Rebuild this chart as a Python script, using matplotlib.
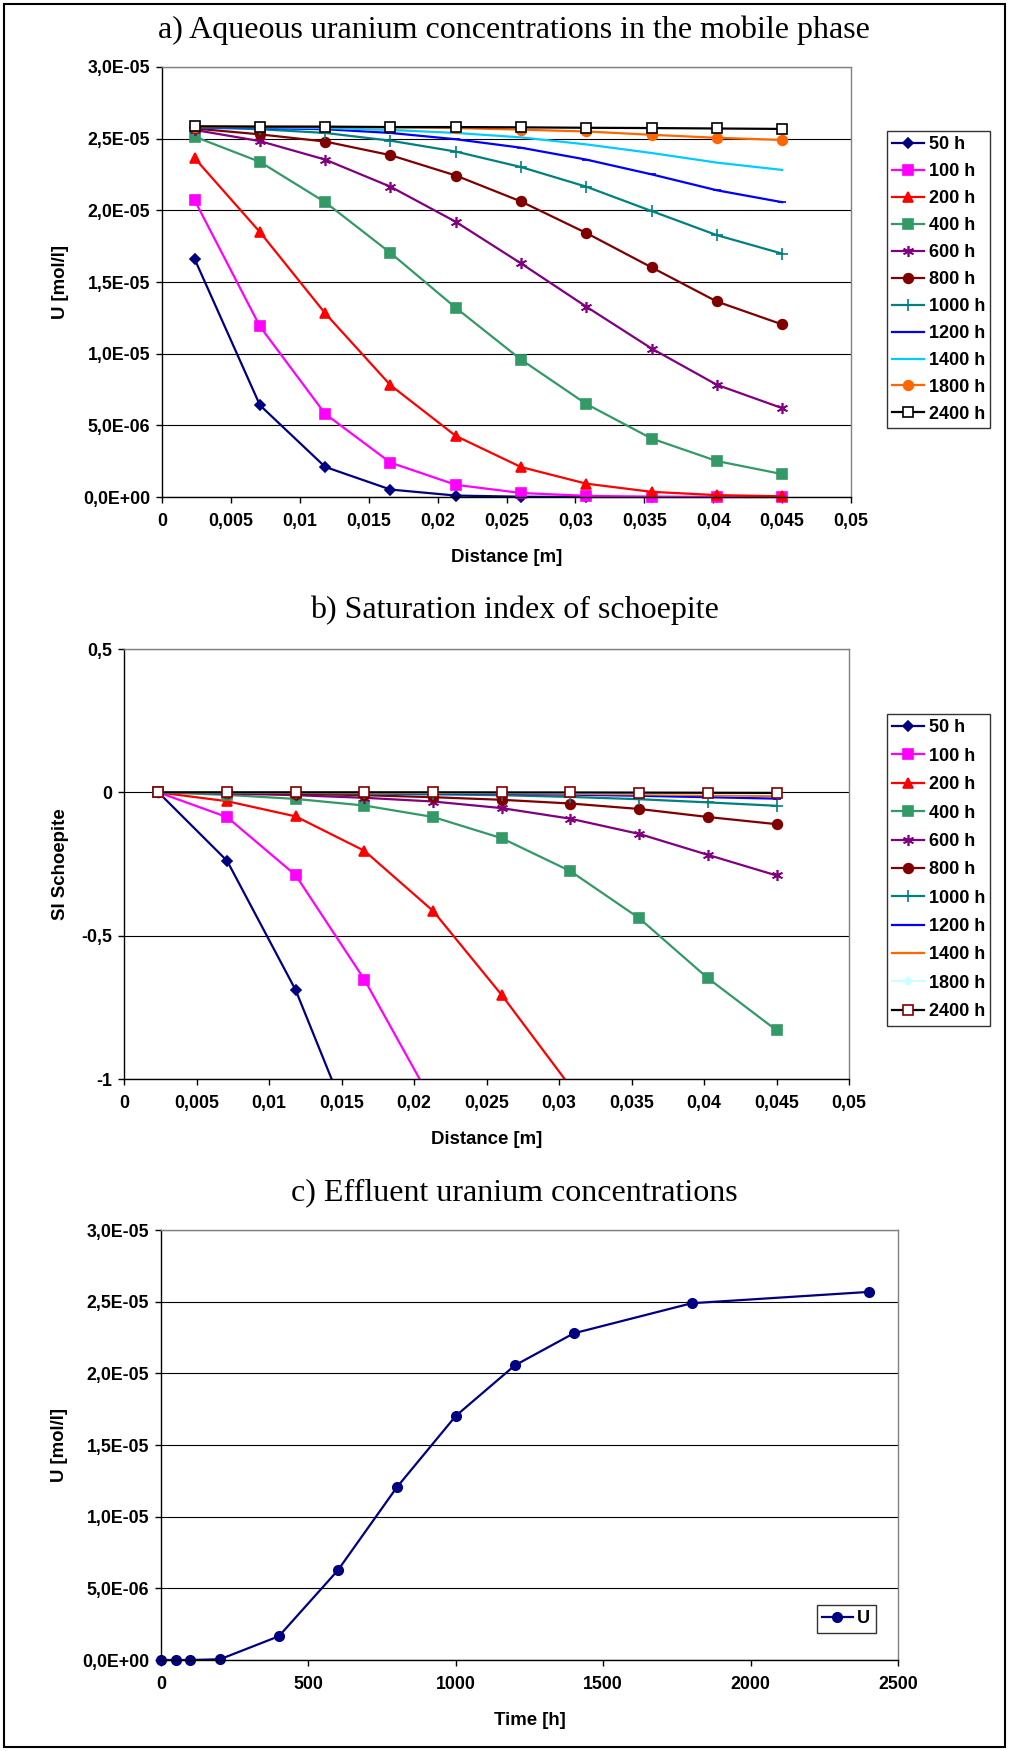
import matplotlib
matplotlib.use("Agg")
import matplotlib.pyplot as plt
import numpy as np
from matplotlib.patches import Rectangle

# distance of the cell centres [m]
distance = [0.00237, 0.00711, 0.01184, 0.01658, 0.02132, 0.02605, 0.03079, 0.03553, 0.04026, 0.045]
hours = ["50 h", "100 h", "200 h", "400 h", "600 h", "800 h", "1000 h", "1200 h", "1400 h", "1800 h", "2400 h"]

# a) aqueous U in mobile phase [mol/l]
u_50 = [1.66e-5, 6.4e-6, 2.1e-6, 5.2e-7, 1.0e-7, 2e-8, 0, 0, 0, 0]
u_100 = [2.07e-5, 1.19e-5, 5.8e-6, 2.4e-6, 8.5e-7, 2.8e-7, 8e-8, 2e-8, 0, 0]
u_200 = [2.364e-5, 1.848e-5, 1.282e-5, 7.8e-6, 4.26e-6, 2.09e-6, 9.3e-7, 3.6e-7, 1.3e-7, 5e-8]
u_400 = [2.514e-5, 2.338e-5, 2.057e-5, 1.703e-5, 1.32e-5, 9.59e-6, 6.49e-6, 4.08e-6, 2.51e-6, 1.6e-6]
u_600 = [2.561e-5, 2.483e-5, 2.354e-5, 2.165e-5, 1.92e-5, 1.63e-5, 1.328e-5, 1.036e-5, 7.83e-6, 6.2e-6]
u_800 = [2.571e-5, 2.53e-5, 2.48e-5, 2.385e-5, 2.243e-5, 2.062e-5, 1.842e-5, 1.602e-5, 1.364e-5, 1.204e-5]
u_1000 = [2.579e-5, 2.566e-5, 2.54e-5, 2.486e-5, 2.41e-5, 2.302e-5, 2.165e-5, 1.995e-5, 1.827e-5, 1.698e-5]
u_1200 = [2.579e-5, 2.574e-5, 2.566e-5, 2.54e-5, 2.496e-5, 2.437e-5, 2.354e-5, 2.251e-5, 2.14e-5, 2.057e-5]
u_1400 = [2.581e-5, 2.579e-5, 2.574e-5, 2.561e-5, 2.54e-5, 2.509e-5, 2.46e-5, 2.4e-5, 2.333e-5, 2.282e-5]
u_1800 = [2.584e-5, 2.584e-5, 2.581e-5, 2.579e-5, 2.574e-5, 2.563e-5, 2.55e-5, 2.527e-5, 2.506e-5, 2.491e-5]
u_2400 = [2.586e-5, 2.584e-5, 2.584e-5, 2.581e-5, 2.581e-5, 2.579e-5, 2.576e-5, 2.574e-5, 2.571e-5, 2.568e-5]

# b) saturation index of schoepite (points below -1 leave the frame)
si_50 = [0, -0.239, -0.690, -1.283, np.nan, np.nan, np.nan, np.nan, np.nan, np.nan]
si_100 = [0, -0.0865, -0.289, -0.653, -1.085, np.nan, np.nan, np.nan, np.nan, np.nan]
si_200 = [0, -0.031, -0.084, -0.204, -0.414, -0.707, -1.027, np.nan, np.nan, np.nan]
si_400 = [0, -0.009, -0.023, -0.046, -0.086, -0.160, -0.275, -0.439, -0.648, -0.830]
si_600 = [0, -0.004, -0.010, -0.019, -0.032, -0.055, -0.092, -0.145, -0.218, -0.290]
si_800 = [0, -0.002, -0.005, -0.010, -0.017, -0.026, -0.039, -0.058, -0.086, -0.111]
si_1000 = [0, -0.001, -0.002, -0.004, -0.007, -0.010, -0.016, -0.024, -0.035, -0.047]
si_1200 = [0, -0.0005, -0.001, -0.002, -0.003, -0.005, -0.008, -0.012, -0.017, -0.022]
si_1400 = [0, -0.0003, -0.0006, -0.001, -0.002, -0.003, -0.005, -0.007, -0.010, -0.013]
si_1800 = [0, 0, -0.0002, -0.0005, -0.001, -0.0015, -0.002, -0.003, -0.0045, -0.006]
si_2400 = [0, 0, 0, 0, 0, -0.0003, -0.0005, -0.001, -0.0015, -0.002]

# c) effluent
time_h = [0, 50, 100, 200, 400, 600, 800, 1000, 1200, 1400, 1800, 2400]
u_eff = [0, 0, 0, 5e-8, 1.66e-6, 6.26e-6, 1.205e-5, 1.703e-5, 2.055e-5, 2.279e-5, 2.489e-5, 2.568e-5]

u_series = [u_50, u_100, u_200, u_400, u_600, u_800, u_1000, u_1200, u_1400, u_1800, u_2400]
si_series = [si_50, si_100, si_200, si_400, si_600, si_800, si_1000, si_1200, si_1400, si_1800, si_2400]

star = (6, 2, 0)
# (color, marker, markersize, facecolor, edgecolor)
style_a = [
    ("#000080", "D", 5, None, None),
    ("#FF00FF", "s", 7, None, None),
    ("#FF0000", "^", 7, None, None),
    ("#339966", "s", 7, None, None),
    ("#800080", star, 8, None, None),
    ("#800000", "o", 7, None, None),
    ("#008080", "+", 8, None, None),
    ("#0000FF", "_", 6, None, None),
    ("#00CCFF", "None", 0, None, None),
    ("#FF6600", "o", 7, None, None),
    ("#000000", "s", 7, "white", "black"),
]
style_b = list(style_a)
style_b[8] = ("#FF6600", "None", 0, None, None)
style_b[9] = ("#CCFFFF", "D", 4, None, None)
style_b[10] = ("#000000", "s", 7, "white", "#800000")

SANS = "Liberation Sans"
SERIF = "Liberation Serif"
TICK_FS = 12.8
LAB_FS = 13.4

W, H = 1009, 1751
fig = plt.figure(figsize=(W / 100, H / 100), dpi=100)


def fax(l, t, r, b):
    # axes from pixel box
    return fig.add_axes([l / W, 1 - b / H, (r - l) / W, (b - t) / H])


def style_axes(ax):
    for s in ["top", "right"]:
        ax.spines[s].set_color("#808080")
    for s in ["left", "bottom"]:
        ax.spines[s].set_color("black")
    for s in ax.spines.values():
        s.set_linewidth(1.0)
    ax.tick_params(direction="out", length=4.5, width=1, color="black", labelsize=TICK_FS)
    ax.tick_params(axis="x", pad=7)
    ax.tick_params(axis="y", pad=4)
    for lab in ax.get_xticklabels() + ax.get_yticklabels():
        lab.set_fontfamily(SANS)
        lab.set_fontweight("bold")
    ax.yaxis.grid(True, color="black", lw=0.8)
    ax.set_axisbelow(True)


def comma(v):
    s = "%g" % v
    return s.replace(".", ",")


def sci(v):
    return ("%.1E" % v).replace(".", ",")


def legend(ax, handles, labels, l, t, spacing, hl=1.75):
    lg = ax.legend(handles, labels, loc="upper left", bbox_to_anchor=(l / W, 1 - t / H),
                   bbox_transform=fig.transFigure, borderaxespad=0, frameon=True, fancybox=False,
                   edgecolor="black", handlelength=hl, handletextpad=0.25, labelspacing=spacing,
                   borderpad=0.3, prop={"family": SANS, "weight": "bold", "size": 13})
    lg.get_frame().set_linewidth(1.0)
    return lg


def title(text, y):
    fig.text(514 / W, 1 - y / H, text, ha="center", va="baseline", family=SERIF, fontsize=23)


dist_ticks = [0, 0.005, 0.01, 0.015, 0.02, 0.025, 0.03, 0.035, 0.04, 0.045, 0.05]
u_ticks = [0, 5e-6, 1e-5, 1.5e-5, 2e-5, 2.5e-5, 3e-5]

# ---- a)
ax = fax(162, 67, 851, 497)
hs = []
for ys, (c, m, ms, fc, ec) in zip(u_series, style_a):
    h, = ax.plot(distance, ys, color=c, lw=1.6, marker=m, ms=ms,
                 mfc=fc if fc else c, mec=ec if ec else c, mew=1.2, clip_on=False)
    hs.append(h)
ax.set_xlim(0, 0.05)
ax.set_ylim(0, 3e-5)
ax.set_xticks(dist_ticks)
ax.set_xticklabels([comma(v) for v in dist_ticks])
ax.set_yticks(u_ticks)
ax.set_yticklabels([sci(v) for v in u_ticks])
style_axes(ax)
ax.set_xlabel("Distance [m]", family=SANS, weight="bold", fontsize=LAB_FS, labelpad=14)
ax.set_ylabel("U [mol/l]", family=SANS, weight="bold", fontsize=LAB_FS, labelpad=10)
legend(ax, hs, hours, 887, 131, 0.55)
title("a) Aqueous uranium concentrations in the mobile phase", 38)

# ---- b)
ax = fax(124, 649, 849, 1079)
hs = []
for ys, (c, m, ms, fc, ec) in zip(si_series, style_b):
    h, = ax.plot(distance, ys, color=c, lw=1.6, marker=m, ms=ms,
                 mfc=fc if fc else c, mec=ec if ec else c, mew=1.2)
    hs.append(h)
ax.set_xlim(0, 0.05)
ax.set_ylim(-1, 0.5)
ax.set_xticks(dist_ticks)
ax.set_xticklabels([comma(v) for v in dist_ticks])
si_ticks = [-1, -0.5, 0, 0.5]
ax.set_yticks(si_ticks)
ax.set_yticklabels([comma(v) for v in si_ticks])
style_axes(ax)
ax.set_xlabel("Distance [m]", family=SANS, weight="bold", fontsize=LAB_FS, labelpad=14)
ax.set_ylabel("SI Schoepite", family=SANS, weight="bold", fontsize=LAB_FS, labelpad=9)
legend(ax, hs, hours, 887, 714, 0.63)
title("b) Saturation index of schoepite", 618)

# ---- c)
ax = fax(161, 1230, 898, 1660)
h, = ax.plot(time_h, u_eff, color="#000080", lw=1.6, marker="o", ms=7, clip_on=False)
ax.set_xlim(0, 2500)
ax.set_ylim(0, 3e-5)
t_ticks = [0, 500, 1000, 1500, 2000, 2500]
ax.set_xticks(t_ticks)
ax.set_xticklabels([str(v) for v in t_ticks])
ax.set_yticks(u_ticks)
ax.set_yticklabels([sci(v) for v in u_ticks])
style_axes(ax)
ax.set_xlabel("Time [h]", family=SANS, weight="bold", fontsize=LAB_FS, labelpad=14)
ax.set_ylabel("U [mol/l]", family=SANS, weight="bold", fontsize=LAB_FS, labelpad=10)
legend(ax, [h], ["U"], 817, 1605, 0.36, hl=1.67)
title("c) Effluent uranium concentrations", 1200)

# outer frame
fig.patches.append(Rectangle((4 / W, 4 / H), 1001 / W, 1743 / H, transform=fig.transFigure,
                             fill=False, edgecolor="black", lw=1.5))

fig.savefig("out.png", dpi=100)
